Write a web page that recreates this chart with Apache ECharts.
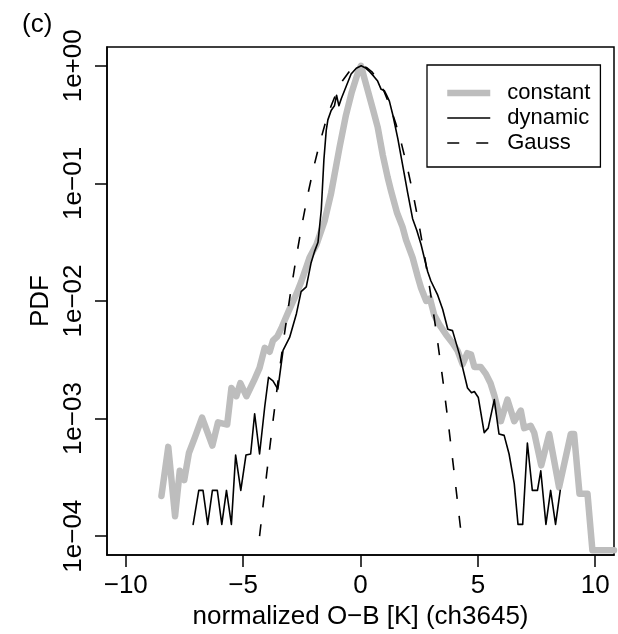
<!DOCTYPE html>
<html><head><meta charset="utf-8">
<script src="https://cdn.jsdelivr.net/npm/echarts@6/dist/echarts.min.js"></script>
<style>html,body{margin:0;padding:0;background:#fff}#c{width:618px;height:634px}</style>
</head><body><div id="c"></div>
<script>
// ---- data ----
const xTickValues = [-10, -5, 0, 5, 10];
const xTickLabels = ['\u221210', '\u22125', '0', '5', '10'];
const yTickValues = [1e-4, 1e-3, 1e-2, 1e-1, 1];
const yTickLabels = ['1e\u221204', '1e\u221203', '1e\u221202', '1e\u221201', '1e+00'];

const seriesNames = ['constant', 'dynamic', 'Gauss'];

const constantX = [-8.48,-8.19,-7.90,-7.70,-7.51,-7.31,-7.06,-6.75,-6.31,-6.07,-5.68,-5.50,-5.29,-5.12,-4.86,-4.54,-4.30,-4.08,-3.87,-3.73,-3.54,-3.35,-3.05,-2.73,-2.53,-2.17,-1.88,-1.53,-1.25,-0.89,-0.62,-0.37,-0.13,0.02,0.27,0.53,0.73,0.95,1.16,1.31,1.56,1.79,1.94,2.22,2.45,2.58,2.80,2.96,3.14,3.36,3.64,3.92,4.13,4.35,4.55,4.71,4.85,5.12,5.34,5.54,5.70,5.98,6.26,6.55,6.83,6.97,7.25,7.40,7.70,8.04,8.46,8.96,9.10,9.33,9.67,9.88,10.8];
const constantY = [2.2e-4,5.75e-4,1.48e-4,3.6e-4,3.0e-4,5.1e-4,6.9e-4,1.02e-3,5.9e-4,9.3e-4,8.9e-4,1.82e-3,1.55e-3,2.0e-3,1.55e-3,2.1e-3,2.7e-3,4.0e-3,3.7e-3,4.6e-3,5.0e-3,6.0e-3,8.3e-3,0.0115,0.0145,0.0234,0.030,0.048,0.083,0.204,0.38,0.6,0.85,1.0,0.66,0.427,0.302,0.174,0.112,0.085,0.056,0.0427,0.0331,0.0234,0.0158,0.0129,0.010,0.0105,7.6e-3,6.3e-3,5.2e-3,4.4e-3,3.8e-3,2.9e-3,3.6e-3,3.5e-3,2.75e-3,2.75e-3,2.4e-3,2.0e-3,1.58e-3,9.5e-4,1.45e-3,9.5e-4,1.17e-3,8.3e-4,8.7e-4,7.6e-4,4.0e-4,7.4e-4,2.6e-4,7.4e-4,7.4e-4,2.3e-4,2.3e-4,7.6e-5,7.6e-5];

const dynamicX = [-7.13,-6.89,-6.71,-6.51,-6.31,-6.10,-5.91,-5.71,-5.50,-5.32,-5.10,-4.88,-4.68,-4.51,-4.30,-4.08,-3.92,-3.73,-3.52,-3.30,-3.02,-2.73,-2.53,-2.31,-2.11,-1.96,-1.81,-1.67,-1.56,-1.46,-1.39,-1.25,-1.11,-1.02,-0.92,-0.82,-0.60,-0.40,-0.18,0.03,0.22,0.39,0.57,0.73,0.88,1.01,1.09,1.23,1.38,1.59,1.79,2.01,2.22,2.40,2.58,2.86,3.00,3.29,3.50,3.72,3.92,4.21,4.56,4.73,4.85,5.02,5.27,5.44,5.70,5.90,6.12,6.33,6.55,6.71,6.91,7.11,7.32,7.54,7.68,7.90,8.10,8.31,8.51];
const dynamicY = [1.26e-4,2.45e-4,2.45e-4,1.26e-4,2.45e-4,2.45e-4,1.26e-4,2.45e-4,1.26e-4,4.9e-4,2.45e-4,4.9e-4,5.0e-4,1.1e-3,5.0e-4,1.26e-3,2.24e-3,2.09e-3,1.78e-3,3.8e-3,4.9e-3,7.8e-3,0.0120,0.0132,0.0209,0.0263,0.0316,0.060,0.158,0.282,0.347,0.417,0.457,0.562,0.457,0.525,0.676,0.851,0.955,1.0,0.955,0.891,0.813,0.741,0.631,0.617,0.575,0.501,0.380,0.240,0.145,0.0832,0.0501,0.0398,0.0302,0.0178,0.0148,0.0112,8.5e-3,5.75e-3,5.6e-3,3.55e-3,1.82e-3,1.66e-3,1.70e-3,1.51e-3,7.6e-4,8.3e-4,1.45e-3,7.4e-4,7.2e-4,5.0e-4,2.8e-4,1.26e-4,1.26e-4,6.2e-4,2.45e-4,2.45e-4,3.6e-4,1.26e-4,2.45e-4,1.26e-4,2.45e-4];

const gaussX = [-4.3,-4.0,-3.75,-3.5,-3.25,-3.0,-2.75,-2.5,-2.25,-2.0,-1.75,-1.5,-1.25,-1.0,-0.75,-0.5,-0.25,0,0.25,0.5,0.75,1.0,1.25,1.5,1.75,2.0,2.25,2.5,2.75,3.0,3.25,3.5,3.75,4.0,4.3];
const gaussY = [1.0e-4,3.35e-4,8.8e-4,2.19e-3,5.09e-3,0.0111,0.0228,0.0439,0.0796,0.1353,0.216,0.325,0.458,0.607,0.755,0.882,0.969,1.0,0.969,0.882,0.755,0.607,0.458,0.325,0.216,0.1353,0.0796,0.0439,0.0228,0.0111,5.09e-3,2.19e-3,8.8e-4,3.35e-4,1.0e-4];

// ---- chart ----
const FONT = '"Liberation Sans", Arial, Helvetica, sans-serif';
const GRAY = '#bdbdbd';
function pairs(xs, ys) { return xs.map((x, i) => [x, ys[i]]); }
function lookup(vals, labels, v, isLog) {
  let best = 0, bd = Infinity;
  vals.forEach((t, i) => {
    const d = isLog ? Math.abs(Math.log10(t) - Math.log10(v)) : Math.abs(t - v);
    if (d < bd) { bd = d; best = i; }
  });
  return labels[best];
}

const styles = [
  { color: GRAY, width: 6.5, type: 'solid', cap: 'round', join: 'round' },
  { color: '#000', width: 1.6, type: 'solid', cap: 'round', join: 'round' },
  { color: '#000', width: 1.6, type: [12, 17], cap: 'butt', join: 'round' }
];

const chart = echarts.init(document.getElementById('c'), null, { renderer: 'canvas' });
chart.setOption({
  animation: false,
  backgroundColor: '#ffffff',
  grid: {
    left: 107, right: 4, top: 47, bottom: 79,
    show: true, borderColor: '#000', borderWidth: 1.5, backgroundColor: 'transparent',
    containLabel: false, outerBoundsMode: 'none'
  },
  legend: {
    data: seriesNames.map((n, i) => ({
      name: n,
      lineStyle: { color: styles[i].color, width: styles[i].width, type: styles[i].type, cap: 'butt' },
      itemStyle: { opacity: 0 }
    })),
    orient: 'vertical',
    left: 427, top: 65,
    padding: [17, 10, 13, 17],
    itemWidth: 43, itemHeight: 14, itemGap: 3,
    borderColor: '#000', borderWidth: 1.3,
    backgroundColor: '#fff',
    itemStyle: { opacity: 0 },
    textStyle: { fontFamily: FONT, fontSize: 22, color: '#000', padding: [0, 0, 0, 12] },
    selectedMode: false
  },
  xAxis: {
    type: 'value', min: -10.8, max: 10.8,
    name: 'normalized O\u2212B [K] (ch3645)',
    nameLocation: 'middle', nameGap: 49, nameMoveOverlap: false,
    nameTextStyle: { fontFamily: FONT, fontSize: 26, color: '#000' },
    axisLine: { show: true, onZero: false, lineStyle: { color: '#000', width: 1.5 } },
    axisTick: { show: true, length: 12, inside: false, customValues: xTickValues, lineStyle: { color: '#000', width: 1.5 } },
    axisLabel: {
      show: true, margin: 18, customValues: xTickValues,
      fontFamily: FONT, fontSize: 26, color: '#000',
      formatter: v => lookup(xTickValues, xTickLabels, v, false)
    },
    splitLine: { show: false }
  },
  yAxis: {
    type: 'log', logBase: 10, min: 6.918e-5, max: 1.4454,
    name: 'PDF',
    nameLocation: 'middle', nameGap: 53, nameRotate: 90, nameMoveOverlap: false,
    nameTextStyle: { fontFamily: FONT, fontSize: 26, color: '#000' },
    axisLine: { show: true, onZero: false, lineStyle: { color: '#000', width: 1.5 } },
    axisTick: { show: true, length: 12, inside: false, customValues: yTickValues, lineStyle: { color: '#000', width: 1.5 } },
    axisLabel: {
      show: true, rotate: 90, margin: 20, customValues: yTickValues,
      fontFamily: FONT, fontSize: 26, color: '#000',
      formatter: v => lookup(yTickValues, yTickLabels, v, true)
    },
    splitLine: { show: false }
  },
  graphic: [{
    type: 'text', left: 22, top: 12,
    style: { text: '(c)', fontFamily: FONT, fontSize: 26, fill: '#000' }
  }],
  series: [
    {
      name: seriesNames[0], type: 'line', data: pairs(constantX, constantY),
      showSymbol: false, symbol: 'none', clip: true,
      lineStyle: styles[0],
      itemStyle: { color: GRAY }, z: 2
    },
    {
      name: seriesNames[1], type: 'line', data: pairs(dynamicX, dynamicY),
      showSymbol: false, symbol: 'none', clip: true,
      lineStyle: styles[1],
      itemStyle: { color: '#000' }, z: 3
    },
    {
      name: seriesNames[2], type: 'line', data: pairs(gaussX, gaussY),
      showSymbol: false, symbol: 'none', clip: true,
      lineStyle: styles[2],
      itemStyle: { color: '#000' }, z: 4
    }
  ]
});
</script>
</body></html>
